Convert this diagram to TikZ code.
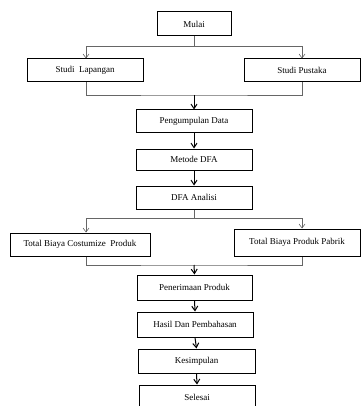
\documentclass[tikz,border=0pt]{standalone}
\usepackage{fontspec}
\setmainfont{Liberation Serif}
\usetikzlibrary{arrows.meta}
\begin{document}
\begin{tikzpicture}[x=1pt,y=-1pt,
  box/.style={draw=black,line width=1pt,fill=white,inner sep=0pt,font=\fontsize{9}{10}\selectfont},
  mainarr/.style={draw=black,line width=1pt,-{Straight Barb[length=4.5pt,width=6pt,line width=1pt]}},
  brline/.style={draw=black!60,line width=0.8pt},
  brarr/.style={brline,-{Straight Barb[length=4pt,width=6pt,line width=0.6pt]}}]
\useasboundingbox (0,0) rectangle (362,406);
\node[box,minimum width=74pt,minimum height=24pt] (mulai) at (194,24) {Mulai};
\node[box,minimum width=116pt,minimum height=23pt] (sl) at (85,70.5) {Studi\enspace Lapangan};
\node[box,minimum width=116pt,minimum height=23pt] (sp) at (302,70.5) {Studi Pustaka};
\node[box,minimum width=116pt,minimum height=23pt] (pd) at (194,121.5) {Pengumpulan Data};
\node[box,minimum width=116pt,minimum height=21pt] (md) at (194,159.5) {Metode DFA};
\node[box,minimum width=116pt,minimum height=23pt] (da) at (194,197.5) {DFA Analisi};
\node[box,minimum width=140pt,minimum height=23pt] (tc) at (80,244.5) {Total Biaya Costumize\enspace Produk};
\node[box,minimum width=126pt,minimum height=27pt] (tp) at (297,242.5) {Total Biaya Produk Pabrik};
\node[box,minimum width=115pt,minimum height=25pt] (pr) at (194.5,287.5) {Penerimaan Produk};
\node[box,minimum width=116pt,minimum height=25pt] (hp) at (195,324.5) {Hasil Dan Pembahasan};
\node[box,minimum width=117pt,minimum height=24pt] (ks) at (196.5,361) {Kesimpulan};
\node[box,minimum width=116pt,minimum height=24pt,text depth=0pt] (se) at (197,397) {Selesai};
% branch 1
\coordinate (b1) at (194,46);
\coordinate (b1l) at (86,46);
\coordinate (b1r) at (302,46);
\draw[brline] (mulai.south) -- (b1);
\draw[brarr] (b1) -- (b1l) -- (b1l |- sl.north);
\draw[brarr] (b1) -- (b1r) -- (b1r |- sp.north);
% merge 1
\coordinate (m1) at (194,95);
\draw[brline] (b1l |- sl.south) |- (m1) -| (b1r |- sp.south);
\draw[mainarr] (m1) -- (pd.north);
\draw[mainarr] (pd.south) -- (md.north);
\draw[mainarr] (md.south) -- (da.north);
% branch 2
\coordinate (b2) at (194,218);
\coordinate (b2l) at (86,218);
\coordinate (b2r) at (302,218);
\draw[brline] (da.south) -- (b2);
\draw[brarr] (b2) -- (b2l) -- (b2l |- tc.north);
\draw[brarr] (b2) -- (b2r) -- (b2r |- tp.north);
% merge 2
\coordinate (m2) at (194,265);
\draw[brline] (b2l |- tc.south) |- (m2) -| (b2r |- tp.south);
\draw[mainarr] (m2) -- (pr.north);
\draw[mainarr] (pr.south) -- (hp.north);
\draw[mainarr] (hp.south) -- (ks.north);
\draw[mainarr] (ks.south) -- (se.north);
\end{tikzpicture}
\end{document}
